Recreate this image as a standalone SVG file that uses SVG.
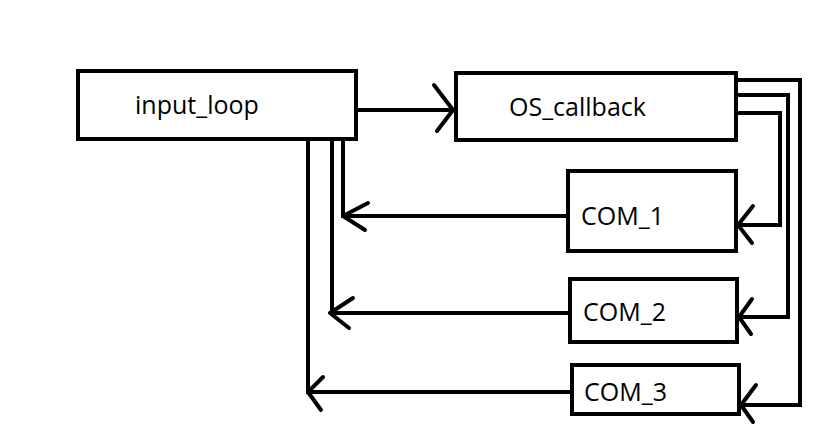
<svg xmlns="http://www.w3.org/2000/svg" width="835" height="443" viewBox="0 0 835 443">
<style>
.box{fill:#fff;stroke:#000;stroke-width:4}
.lbl{font-family:"Open Sans","Noto Sans",sans-serif;font-size:25px;fill:#000}
.ln{fill:none;stroke:#000;stroke-width:4;stroke-linecap:butt;stroke-linejoin:miter}
.ah{fill:none;stroke:#000;stroke-width:4;stroke-linecap:round;stroke-linejoin:round}
</style>
<rect width="835" height="443" fill="#fff"/>
<g id="connectors">
<path class="ln" d="M358,110 H453"/>
<path class="ah" d="M434,85 L453,110 L437,131"/>
<path class="ln" d="M343,141 V216 H567"/>
<path class="ah" d="M368,203 L343,216 L365,230"/>
<path class="ln" d="M332,141 V313 H570"/>
<path class="ah" d="M353,298 L330,313 L349,328"/>
<path class="ln" d="M308,141 V392 H572"/>
<path class="ah" d="M323,377 L308,392 L321,410"/>
<path class="ln" d="M738,113 H780 V225 H738"/>
<path class="ah" d="M753,206 L738,225 L752,243"/>
<path class="ln" d="M738,95 H788 V317 H739"/>
<path class="ah" d="M752,299 L739,317 L751,334"/>
<path class="ln" d="M738,80 H800 V405 H741"/>
<path class="ah" d="M756,385 L741,405 L753,422"/>
</g>
<g id="input_loop">
<rect class="box" x="78" y="71" width="278" height="68"/>
<text class="lbl" x="135" y="114">input_loop</text>
</g>
<g id="OS_callback">
<rect class="box" x="456" y="73" width="280" height="67"/>
<text class="lbl" x="509" y="116">OS_callback</text>
</g>
<g id="COM_1">
<rect class="box" x="568" y="171" width="168" height="80"/>
<text class="lbl" x="581" y="225">COM_1</text>
</g>
<g id="COM_2">
<rect class="box" x="570" y="279" width="167" height="63"/>
<text class="lbl" x="583" y="321">COM_2</text>
</g>
<g id="COM_3">
<rect class="box" x="572" y="365" width="167" height="49"/>
<text class="lbl" x="584" y="401">COM_3</text>
</g>
</svg>
